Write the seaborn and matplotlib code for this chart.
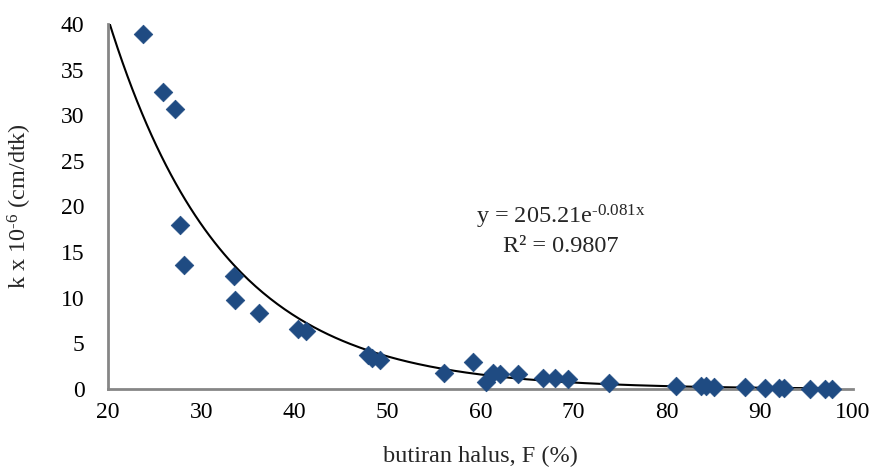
import numpy as np
import pandas as pd
import matplotlib
matplotlib.use("Agg")
import matplotlib.pyplot as plt
from matplotlib.ticker import MultipleLocator
import seaborn as sns

# data
fines = [23.8, 25.9, 27.2, 27.7, 28.2, 33.5, 33.6, 36.2, 40.4, 41.3,
         47.9, 48.3, 49.2, 56.1, 59.2, 60.6, 61.3, 62.1, 64.0, 66.7,
         68.0, 69.4, 73.8, 81.0, 83.7, 84.2, 85.1, 88.4, 90.5, 92.1,
         92.6, 95.4, 97.0, 97.7]
k_vals = [38.9, 32.5, 30.7, 18.0, 13.6, 12.4, 9.7, 8.3, 6.6, 6.4,
          3.7, 3.4, 3.2, 1.8, 2.95, 0.75, 1.8, 1.6, 1.6, 1.2,
          1.2, 1.1, 0.7, 0.33, 0.3, 0.3, 0.25, 0.25, 0.1, 0.1,
          0.1, 0.05, 0.05, 0.05]
fit_a = 205.21
fit_b = -0.081
fit_range = (20, 97.7)
eq_text = "y = 205.21e$^{\\mathrm{\u20100.081x}}$"
r2_text = "R² = 0.9807"
x_label = "butiran halus, F (%)"
y_label = "k x 10$^{\\mathrm{\u20106}}$ (cm/dtk)"

sns.set_style("white")
plt.rcParams['font.family'] = ['Liberation Serif', 'DejaVu Serif']
plt.rcParams['mathtext.fontset'] = 'custom'
plt.rcParams['mathtext.rm'] = 'Liberation Serif'
plt.rcParams['mathtext.it'] = 'Liberation Serif:italic'

fig = plt.figure(figsize=(8.72, 4.71), dpi=100)
ax = fig.add_axes([108/872, 1-389/471, (853-108)/872, (389-24)/471])

df = pd.DataFrame({"F": fines, "k": k_vals})
xs = np.linspace(fit_range[0], fit_range[1], 300)
fit_df = pd.DataFrame({"F": xs, "k": fit_a*np.exp(fit_b*xs)})

sns.lineplot(data=fit_df, x="F", y="k", ax=ax, color="black", lw=1.5, zorder=2)
sns.scatterplot(data=df, x="F", y="k", ax=ax, marker="D", s=90,
                color="#1F4B82", edgecolor="#1F4B82", linewidth=0.5, zorder=3, clip_on=False)

ax.set_xlim(20, 100)
ax.set_ylim(0, 40)
ax.xaxis.set_major_locator(MultipleLocator(10))
ax.xaxis.set_minor_locator(MultipleLocator(2))
ax.yaxis.set_major_locator(MultipleLocator(5))
ax.yaxis.set_minor_locator(MultipleLocator(1))

for s in ["top", "right"]:
    ax.spines[s].set_visible(False)
for s in ["left", "bottom"]:
    ax.spines[s].set_color("#868686")
    ax.spines[s].set_linewidth(2)

ax.tick_params(axis="both", which="major", direction="in", length=6, width=1.5,
               color="#868686", labelsize=17, labelcolor="black")
ax.tick_params(axis="both", which="minor", direction="in", length=3.5, width=1.2,
               color="#868686")
ax.tick_params(axis="y", which="major", pad=17)
ax.tick_params(axis="x", which="major", pad=9)

ax.set_xlabel(x_label, fontsize=17.5)
ax.set_ylabel(y_label, fontsize=17.5)
ax.xaxis.set_label_coords(0.5, -0.155)
ax.yaxis.set_label_coords(-0.10, 0.5)

ax.text(68.6, 18.9, eq_text, ha="center", va="center", fontsize=17.5)
ax.text(68.6, 15.6, r2_text, ha="center", va="center", fontsize=17.5)

fig.savefig("out.png", dpi=100)
